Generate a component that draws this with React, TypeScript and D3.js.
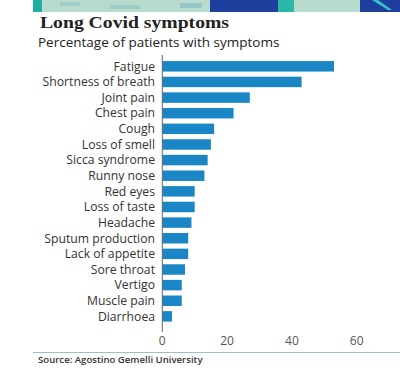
import React from "react";
import * as d3 from "d3";

const categories = [
  "Fatigue",
  "Shortness of breath",
  "Joint pain",
  "Chest pain",
  "Cough",
  "Loss of smell",
  "Sicca syndrome",
  "Runny nose",
  "Red eyes",
  "Loss of taste",
  "Headache",
  "Sputum production",
  "Lack of appetite",
  "Sore throat",
  "Vertigo",
  "Muscle pain",
  "Diarrhoea",
];
const values = [53, 43, 27, 22, 16, 15, 14, 13, 10, 10, 9, 8, 8, 7, 6, 6, 3];
const ticks = [0, 20, 40, 60];

const W = 400;
const H = 379;

export default function App() {
  const x = d3.scaleLinear().domain([0, 60]).range([162.3, 356.7]);
  const y = d3
    .scaleBand<string>()
    .domain(categories)
    .range([58.5, 324.2])
    .paddingInner(0.33)
    .paddingOuter(0.165);
  const sans = "'Open Sans', 'Noto Sans', sans-serif";
  return (
    <svg
      width={W}
      height={H}
      style={{ position: "absolute", left: 0, top: 0, background: "#fff" }}
    >
      {/* banner strip */}
      <g>
        <rect x={33} y={0} width={367} height={12} fill="#b7dccd" />
        <rect x={33} y={0} width={9} height={12} fill="#1fae9f" />
        <rect x={210} y={0} width={68} height={12} fill="#1e3f9e" />
        <rect x={278} y={0} width={16} height={12} fill="#2cb8a8" />
        <rect x={360} y={0} width={40} height={12} fill="#1e3f9e" />
        <path d="M372,0 L388,10 L392,10 L378,0 Z" fill="#39c0c9" />
        <rect x={60} y={2} width={20} height={4} fill="#8fc4c4" opacity={0.6} />
        <rect x={110} y={5} width={30} height={4} fill="#8fbfca" opacity={0.6} />
        <rect x={180} y={3} width={22} height={5} fill="#7fb4c6" opacity={0.6} />
      </g>
      <text
        x={40}
        y={28}
        fontFamily="'Liberation Serif', 'DejaVu Serif', serif"
        fontWeight="bold"
        fontSize={17}
        textLength={189}
        lengthAdjust="spacingAndGlyphs"
        fill="#222"
      >
        Long Covid symptoms
      </text>
      <text x={38} y={46.5} fontFamily={sans} fontSize={13.5} fill="#222">
        Percentage of patients with symptoms
      </text>
      {categories.map((c, i) => (
        <g key={c}>
          <rect
            x={x(0)}
            y={y(c)}
            width={x(values[i]) - x(0)}
            height={y.bandwidth()}
            fill="#1a86c6"
          />
          <text
            x={155}
            y={(y(c) as number) + y.bandwidth() / 2}
            dy="0.35em"
            textAnchor="end"
            fontFamily={sans}
            fontSize={12.2}
            fill="#333"
          >
            {c}
          </text>
        </g>
      ))}
      <line x1={x(0)} x2={x(0)} y1={55} y2={332} stroke="#666" strokeWidth={1} />
      {ticks.map((t) => (
        <text
          key={t}
          x={x(t)}
          y={341}
          dy="0.35em"
          textAnchor="middle"
          fontFamily={sans}
          fontSize={12}
          fill="#555"
        >
          {t}
        </text>
      ))}
      <line x1={33} x2={400} y1={352.5} y2={352.5} stroke="#9fbfc6" strokeWidth={1} />
      <text
        x={38}
        y={359.5}
        dy="0.35em"
        fontFamily={sans}
        fontWeight={600}
        fontSize={9.6}
        fill="#333"
      >
        Source: Agostino Gemelli University
      </text>
    </svg>
  );
}
